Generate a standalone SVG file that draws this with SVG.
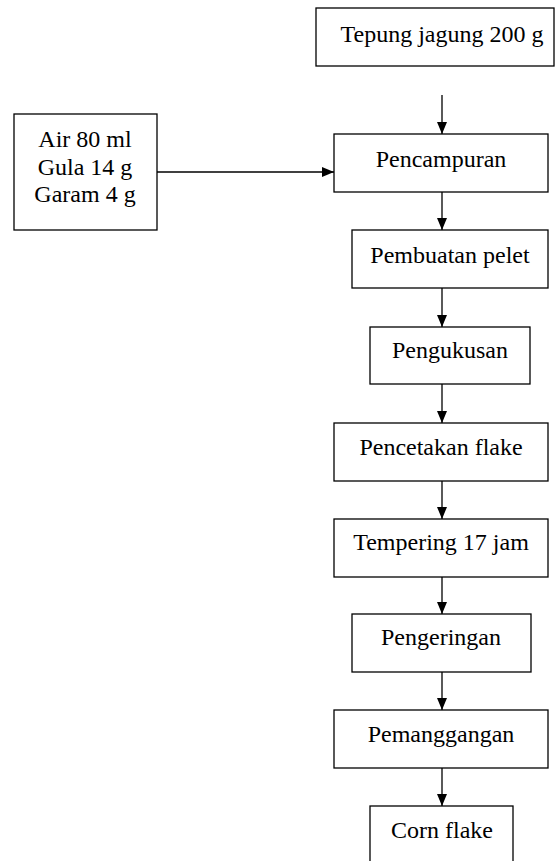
<svg xmlns="http://www.w3.org/2000/svg" width="556" height="861" viewBox="0 0 556 861">
<style>
rect{fill:#fff;stroke:#000;stroke-width:1.3}
text{font-family:"Liberation Serif","Times New Roman",serif;font-size:24px;fill:#000;text-anchor:middle}
.c line{stroke:#000;stroke-width:1.3;marker-end:url(#ah)}
</style>
<defs>
<marker id="ah" markerUnits="userSpaceOnUse" viewBox="0 0 12 10" refX="12" refY="5" markerWidth="12" markerHeight="10" orient="auto">
<path d="M0,0 L12,5 L0,10 z" fill="#000"/>
</marker>
</defs>
<rect width="556" height="861" style="fill:#fff;stroke:none"/>
<g id="tepung"><rect x="316" y="8" width="238" height="58"/><text x="442" y="42">Tepung jagung 200 g</text></g>
<g id="bahan"><rect x="14" y="114" width="143" height="116"/><text x="85" y="147">Air 80 ml</text><text x="85" y="175">Gula 14 g</text><text x="85" y="202">Garam 4 g</text></g>
<g id="pencampuran"><rect x="334" y="134" width="214" height="58"/><text x="441" y="167">Pencampuran</text></g>
<g id="pembuatan"><rect x="352" y="230" width="196" height="58"/><text x="450" y="263">Pembuatan pelet</text></g>
<g id="pengukusan"><rect x="370" y="327" width="160" height="57"/><text x="450" y="358">Pengukusan</text></g>
<g id="pencetakan"><rect x="334" y="423" width="214" height="58"/><text x="441" y="455">Pencetakan flake</text></g>
<g id="tempering"><rect x="334" y="519" width="214" height="58"/><text x="441" y="550">Tempering 17 jam</text></g>
<g id="pengeringan"><rect x="352" y="614" width="179" height="58"/><text x="441" y="645">Pengeringan</text></g>
<g id="pemanggangan"><rect x="334" y="710" width="214" height="58"/><text x="441" y="742">Pemanggangan</text></g>
<g id="cornflake"><rect x="370" y="806" width="143" height="70"/><text x="442" y="838">Corn flake</text></g>
<g class="c" id="connectors">
<line x1="442" y1="95" x2="442" y2="134"/>
<line x1="157" y1="172" x2="334" y2="172"/>
<line x1="442" y1="192" x2="442" y2="230"/>
<line x1="442" y1="288" x2="442" y2="327"/>
<line x1="442" y1="384" x2="442" y2="423"/>
<line x1="442" y1="481" x2="442" y2="519"/>
<line x1="442" y1="577" x2="442" y2="614"/>
<line x1="442" y1="672" x2="442" y2="710"/>
<line x1="442" y1="768" x2="442" y2="806"/>
</g>
</svg>
